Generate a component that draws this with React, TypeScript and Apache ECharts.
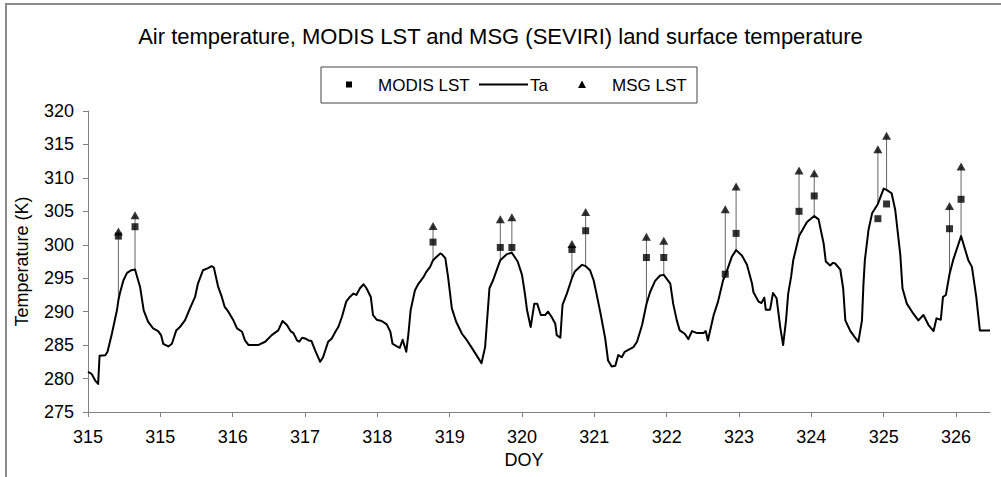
import React, { useEffect, useRef } from "react";
import * as echarts from "echarts";

// Axis tick labels (day of year), one per major tick
const tickLabels = ["315", "315", "316", "317", "318", "319", "320", "321", "322", "323", "324", "325", "326"];

// Air temperature (Ta): time in days from the first tick, temperature in K
const taT = [
  0.0, 0.05, 0.1, 0.14, 0.16, 0.24, 0.27, 0.33, 0.4, 0.42, 0.44, 0.49, 0.54, 0.6, 0.65, 0.72, 0.77, 0.83, 0.9, 0.97,
  1.01, 1.04, 1.11, 1.16, 1.22, 1.27, 1.34, 1.41, 1.48, 1.52, 1.59, 1.66, 1.71, 1.74, 1.8, 1.85, 1.89, 1.94,
  2.01, 2.06, 2.13, 2.17, 2.22, 2.35, 2.45, 2.54, 2.63, 2.69, 2.75, 2.8, 2.84, 2.89, 2.92, 2.96,
  3.0, 3.05, 3.09, 3.14, 3.21, 3.25, 3.32, 3.37, 3.42, 3.46, 3.51, 3.57, 3.62, 3.67, 3.71, 3.76, 3.81, 3.85, 3.91, 3.94, 3.99,
  4.06, 4.13, 4.18, 4.21, 4.27, 4.31, 4.35, 4.4, 4.43, 4.46, 4.52, 4.57, 4.64, 4.68, 4.73, 4.77, 4.82, 4.87, 4.89, 4.94, 4.98,
  5.03, 5.09, 5.17, 5.24, 5.3, 5.37, 5.44, 5.49, 5.55, 5.6, 5.65, 5.7, 5.79, 5.86, 5.94,
  6.0, 6.04, 6.07, 6.12, 6.17, 6.21, 6.26, 6.32, 6.36, 6.41, 6.46, 6.48, 6.53, 6.56, 6.62, 6.69, 6.73, 6.83, 6.88, 6.94, 6.99,
  7.03, 7.09, 7.15, 7.19, 7.24, 7.29, 7.33, 7.38, 7.42, 7.47, 7.54, 7.59, 7.66, 7.72, 7.77, 7.84, 7.91, 7.96,
  8.05, 8.09, 8.14, 8.18, 8.25, 8.3, 8.35, 8.42, 8.51, 8.54, 8.57, 8.65, 8.71, 8.78, 8.81, 8.9, 8.96,
  9.04, 9.11, 9.18, 9.2, 9.27, 9.31, 9.35, 9.37, 9.43, 9.47, 9.52, 9.57, 9.61, 9.65, 9.68, 9.72, 9.75, 9.83, 9.94,
  10.04, 10.1, 10.17, 10.2, 10.26, 10.3, 10.33, 10.4, 10.44, 10.47, 10.54, 10.6, 10.65, 10.7, 10.72, 10.74, 10.79, 10.84, 10.92,
  11.0, 11.04, 11.11, 11.16, 11.23, 11.26, 11.32, 11.41, 11.48, 11.55, 11.62, 11.69, 11.73, 11.79, 11.82, 11.86, 11.91, 11.96,
  12.07, 12.17, 12.22, 12.28, 12.33, 12.47,
];
const taK = [
  281.0, 280.7, 279.7, 279.2, 283.4, 283.5, 284.0, 286.7, 290.2, 291.7, 292.7, 294.7, 295.8, 296.2, 296.3, 293.7, 290.2, 288.5, 287.5, 287.1,
  286.5, 285.2, 284.8, 285.2, 287.2, 287.7, 288.7, 290.5, 292.2, 294.2, 296.2, 296.5, 296.8, 296.6, 293.7, 292.2, 290.7, 290.0,
  288.7, 287.5, 287.0, 285.7, 285.0, 285.0, 285.5, 286.5, 287.2, 288.6, 288.0, 287.1, 286.8, 285.7, 285.5, 286.1,
  286.0, 285.7, 285.6, 284.2, 282.5, 283.2, 285.5, 286.0, 287.0, 287.7, 289.2, 291.5, 292.2, 292.7, 292.5, 293.5, 294.1, 293.5, 292.2, 289.5, 288.8,
  288.6, 288.1, 287.0, 285.2, 284.8, 284.6, 285.8, 284.0, 286.7, 290.2, 293.2, 294.2, 295.2, 296.0, 296.7, 297.7, 298.2, 298.7, 298.6, 298.0, 295.0,
  290.5, 288.5, 286.7, 285.7, 284.7, 283.5, 282.3, 284.7, 293.5, 294.7, 296.2, 297.7, 298.6, 298.8, 297.5,
  295.5, 292.7, 290.2, 287.7, 291.2, 291.2, 289.5, 289.5, 290.0, 289.2, 288.2, 286.5, 286.1, 291.0, 292.7, 295.0, 296.0, 297.0, 296.8, 296.2, 294.7,
  292.7, 289.5, 286.0, 282.7, 281.8, 281.9, 283.5, 283.2, 284.0, 284.3, 284.7, 285.5, 288.0, 291.1, 292.9, 294.6, 295.4, 295.5,
  294.2, 291.2, 288.7, 287.2, 286.7, 285.9, 287.1, 286.8, 286.8, 287.1, 285.7, 289.5, 291.5, 294.7, 295.4, 298.2, 299.2,
  298.4, 297.0, 294.2, 292.9, 291.5, 291.3, 292.1, 290.3, 290.3, 292.8, 292.0, 287.7, 285.0, 288.7, 292.7, 295.2, 297.7, 301.3, 303.4,
  304.3, 303.8, 300.2, 297.5, 296.9, 297.3, 297.2, 296.3, 293.5, 288.7, 287.1, 286.2, 285.5, 288.7, 294.0, 297.7, 302.2, 304.7, 306.1,
  308.4, 308.2, 307.7, 305.2, 298.5, 293.5, 291.2, 289.7, 288.7, 289.5, 288.0, 287.1, 289.0, 288.8, 292.2, 292.5, 295.6, 297.7,
  301.3, 297.7, 296.7, 292.2, 287.2, 287.2,
];

// Satellite overpass times (same time base as Ta)
const obsT = [0.42, 0.65, 4.77, 5.7, 5.86, 6.69, 6.88, 7.72, 7.96, 8.81, 8.96, 9.83, 10.04, 10.92, 11.04, 11.91, 12.07];
// MODIS land surface temperature (K)
const modisLst = [301.3, 302.7, 300.4, 299.6, 299.6, 299.3, 302.1, 298.1, 298.1, 295.6, 301.7, 305.0, 307.3, 303.9, 306.1, 302.4, 306.8];
// MSG (SEVIRI) land surface temperature (K)
const msgLst = [302.0, 304.4, 302.8, 303.8, 304.1, 300.1, 304.9, 301.2, 300.6, 305.3, 308.7, 311.1, 310.7, 314.3, 316.3, 305.8, 311.7];

const FONT = "'Liberation Sans', Arial, Helvetica, sans-serif";
const AXIS_GRAY = "#808080";

export default function App() {
  const ref = useRef<HTMLDivElement>(null);

  useEffect(() => {
    if (!ref.current) return;
    const chart = echarts.init(ref.current, undefined, { renderer: "svg" });

    const taData = taT.map((t, i) => [t, taK[i]]);
    const taAt = (t: number) => taK[taT.indexOf(t)];
    // high-low lines: from the highest observation down to Ta at the same time
    const dropData = obsT.map((t, i) => [t, Math.max(msgLst[i], modisLst[i]), taAt(t)]);

    const tickIdx = tickLabels.map((_, i) => i);

    const option: any = {
      animation: false,
      backgroundColor: "#ffffff",
      textStyle: { fontFamily: FONT, color: "#000" },
      title: {
        text: "Air temperature, MODIS LST and MSG (SEVIRI) land surface temperature",
        left: "center",
        top: 20,
        textStyle: { fontFamily: FONT, fontSize: 22, fontWeight: "normal", color: "#000" },
      },
      grid: { left: 88, right: 11, top: 111, bottom: 65, containLabel: false },
      xAxis: {
        type: "value",
        min: 0,
        max: 12.47,
        interval: 1,
        name: "DOY",
        nameLocation: "middle",
        nameGap: 38,
        nameTextStyle: { fontFamily: FONT, fontSize: 18, color: "#000", padding: [0, 30, 0, 0] },
        axisLine: { show: true, lineStyle: { color: AXIS_GRAY, width: 1 } },
        axisTick: { show: true, inside: false, length: 5, lineStyle: { color: AXIS_GRAY }, customValues: tickIdx },
        axisLabel: {
          fontFamily: FONT,
          fontSize: 18,
          color: "#000",
          margin: 16,
          customValues: tickIdx,
          formatter: (v: number) => tickLabels[Math.round(v)] ?? "",
        },
        splitLine: { show: false },
      },
      yAxis: {
        type: "value",
        min: 275,
        max: 320,
        interval: 5,
        name: "Temperature (K)",
        nameLocation: "middle",
        nameGap: 57,
        nameTextStyle: { fontFamily: FONT, fontSize: 18, color: "#000" },
        axisLine: { show: true, lineStyle: { color: AXIS_GRAY, width: 1 } },
        axisTick: { show: true, inside: false, length: 5, lineStyle: { color: AXIS_GRAY } },
        axisLabel: { fontFamily: FONT, fontSize: 18, color: "#000", margin: 14 },
        splitLine: { show: false },
      },
      series: [
        {
          type: "custom",
          name: "high-low",
          data: dropData,
          encode: { x: 0, y: [1, 2] },
          z: 1,
          silent: true,
          renderItem: (_params: any, api: any) => {
            const top = api.coord([api.value(0), api.value(1)]);
            const bot = api.coord([api.value(0), api.value(2)]);
            return {
              type: "line",
              shape: { x1: top[0], y1: top[1], x2: bot[0], y2: bot[1] },
              style: { stroke: "#666", lineWidth: 1 },
            };
          },
        },
        {
          type: "line",
          name: "Ta",
          data: taData,
          showSymbol: false,
          symbol: "none",
          z: 2,
          lineStyle: { color: "#000", width: 2, join: "round" },
        },
        {
          type: "scatter",
          name: "MODIS LST",
          data: obsT.map((t, i) => [t, modisLst[i]]),
          symbol: "rect",
          symbolSize: 7,
          z: 3,
          itemStyle: { color: "#000" },
        },
        {
          type: "scatter",
          name: "MSG LST",
          data: obsT.map((t, i) => [t, msgLst[i]]),
          symbol: "triangle",
          symbolSize: [9, 8],
          z: 3,
          itemStyle: { color: "#000" },
        },
      ],
      graphic: [
        // chart-area frame (top and left edges)
        {
          type: "polyline",
          shape: { points: [[6, 477], [6, 4], [1001, 4]] },
          style: { stroke: "#8a8a8a", lineWidth: 2, fill: "none" },
          silent: true,
        },
        // legend box
        {
          type: "rect",
          shape: { x: 321, y: 67, width: 376, height: 36 },
          style: { stroke: "#444", lineWidth: 1, fill: "#fff" },
          silent: true,
        },
        {
          type: "rect",
          shape: { x: 346, y: 81.5, width: 6, height: 6 },
          style: { fill: "#000" },
          silent: true,
        },
        {
          type: "text",
          x: 378,
          y: 85,
          style: { text: "MODIS LST", font: `17px ${FONT}`, fill: "#000", verticalAlign: "middle", align: "left" },
          silent: true,
        },
        {
          type: "line",
          shape: { x1: 479, y1: 84.5, x2: 528, y2: 84.5 },
          style: { stroke: "#000", lineWidth: 2 },
          silent: true,
        },
        {
          type: "text",
          x: 530,
          y: 85,
          style: { text: "Ta", font: `17px ${FONT}`, fill: "#000", verticalAlign: "middle", align: "left" },
          silent: true,
        },
        {
          type: "polygon",
          shape: { points: [[582, 80.5], [586, 88], [578, 88]] },
          style: { fill: "#000" },
          silent: true,
        },
        {
          type: "text",
          x: 612,
          y: 85,
          style: { text: "MSG LST", font: `17px ${FONT}`, fill: "#000", verticalAlign: "middle", align: "left" },
          silent: true,
        },
      ],
    };

    chart.setOption(option);
    return () => chart.dispose();
  }, []);

  return (
    <div
      ref={ref}
      style={{ position: "fixed", left: 0, top: 0, width: 1001, height: 477, background: "#fff" }}
    />
  );
}
